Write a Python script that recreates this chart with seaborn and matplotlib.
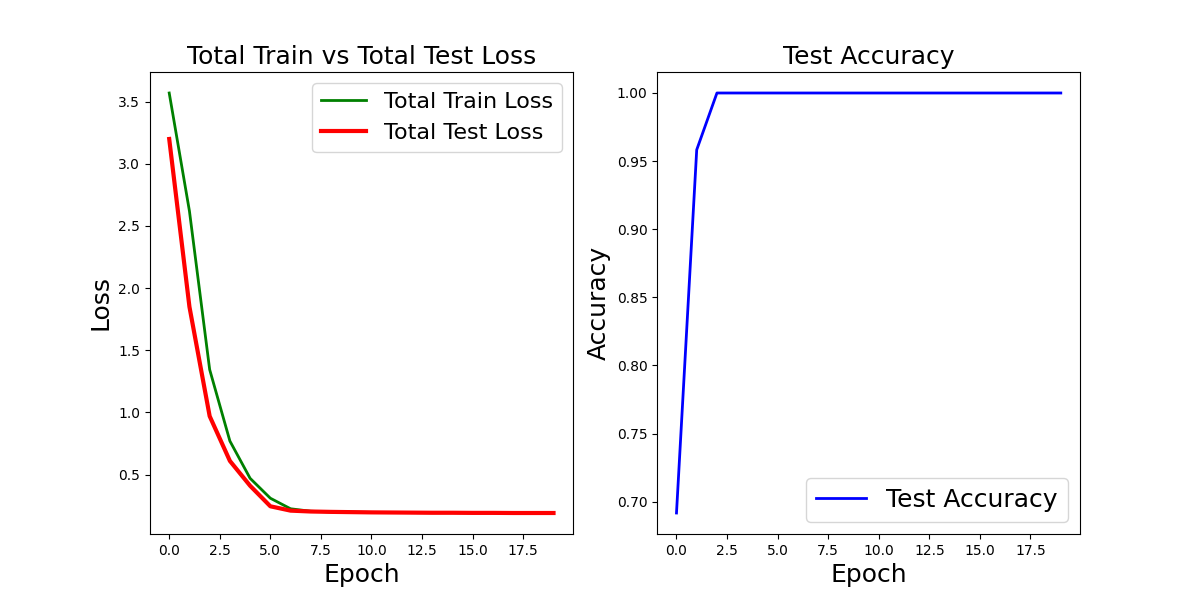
import matplotlib
matplotlib.use("Agg")
import matplotlib.pyplot as plt
import seaborn as sns
import numpy as np

epochs = list(range(20))
train_loss = [3.57, 2.62, 1.345, 0.77, 0.47, 0.31, 0.225, 0.205, 0.200, 0.198,
              0.196, 0.195, 0.194, 0.193, 0.193, 0.192, 0.192, 0.191, 0.191, 0.191]
test_loss = [3.20, 1.85, 0.97, 0.61, 0.41, 0.245, 0.21, 0.203, 0.200, 0.198,
             0.196, 0.195, 0.194, 0.193, 0.193, 0.192, 0.192, 0.191, 0.191, 0.191]
test_acc = [0.6917, 0.9583] + [1.0] * 18

fig, (ax1, ax2) = plt.subplots(1, 2, figsize=(12, 6), dpi=100)

sns.lineplot(x=epochs, y=train_loss, ax=ax1, color="green", linewidth=2, label="Total Train Loss")
sns.lineplot(x=epochs, y=test_loss, ax=ax1, color="red", linewidth=3, label="Total Test Loss")
ax1.set_title("Total Train vs Total Test Loss", fontsize=18)
ax1.set_xlabel("Epoch", fontsize=18)
ax1.set_ylabel("Loss", fontsize=18)
ax1.legend(loc="upper right", fontsize=16)

sns.lineplot(x=epochs, y=test_acc, ax=ax2, color="blue", linewidth=2, label="Test Accuracy")
ax2.set_title("Test Accuracy", fontsize=18)
ax2.set_xlabel("Epoch", fontsize=18)
ax2.set_ylabel("Accuracy", fontsize=18)
ax2.legend(loc="lower right", fontsize=18)

fig.savefig("out.png", dpi=100)
